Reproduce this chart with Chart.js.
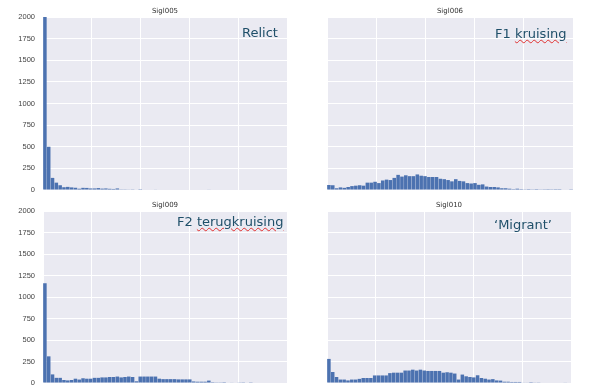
<!DOCTYPE html>
<html>
<head>
<meta charset="utf-8">
<script src="https://cdn.jsdelivr.net/npm/chart.js@4.4.1/dist/chart.umd.min.js"></script>
<style>
    body { margin: 0; background: #fff; width: 602px; height: 388px; position: relative; overflow: hidden; font-family: "DejaVu Sans", sans-serif; }
    canvas { position: absolute; z-index: 1; }
    .title { position: absolute; z-index: 2; font-size: 7px; line-height: 7px; color: #333; transform: translateX(-50%); white-space: nowrap; }
    .note { position: absolute; z-index: 2; font-size: 13px; line-height: 13px; color: #1f4f69; white-space: nowrap; }
    .spell { text-decoration: underline wavy #e03030; text-decoration-thickness: 0.7px; text-underline-offset: 1px; }
</style>
</head>
<body>
<div class="title" style="left:165px; top:8px;">Sigl005</div>
<div class="title" style="left:450px; top:8px;">Sigl006</div>
<div class="title" style="left:165px; top:202px;">Sigl009</div>
<div class="title" style="left:449px; top:202px;">Sigl010</div>

<div class="note" style="left:242px; top:26px;">Relict</div>
<div class="note" style="left:495px; top:27px;">F1 <span class="spell">kruising</span></div>
<div class="note" style="left:177px; top:215px;">F2 <span class="spell">terugkruising</span></div>
<div class="note" style="left:494px; top:218px;">‘Migrant’</div>

<script>
// 64 bins over 0..1
const binLabels = Array.from({ length: 64 }, (_, i) => String(i));

const sigl005 = [2600, 500, 140, 85, 55, 32, 36, 30, 26, 15, 25, 24, 18, 18, 22, 16, 18, 14, 12, 18,
    8, 8, 7, 8, 6, 2, 0, 6, 6, 5, 0, 0, 0, 0, 0, 0, 0, 0, 0, 0, 0, 0, 0, 5,
    0, 0, 0, 0, 0, 0, 0, 0, 0, 0, 0, 0, 0, 0, 0, 0, 0, 0, 0, 0];

const sigl006 = [58, 55, 20, 30, 25, 35, 45, 50, 55, 50, 85, 85, 95, 80, 110, 120, 115, 140, 175, 155,
    170, 160, 160, 180, 165, 160, 150, 150, 150, 130, 125, 115, 100, 125, 105, 100, 80, 75, 80, 60,
    65, 40, 35, 35, 30, 20, 20, 15, 10, 15, 10, 8, 10, 8, 10, 4, 3, 2, 3, 2, 2, 0, 0, 3];

const sigl009 = [1160, 310, 100, 60, 60, 35, 30, 35, 50, 40, 55, 50, 50, 60, 60, 65, 65, 70, 70, 75,
    65, 70, 75, 70, 20, 75, 75, 75, 75, 75, 50, 45, 45, 45, 45, 42, 42, 42, 42, 18,
    15, 15, 15, 28, 10, 8, 8, 10, 6, 5, 0, 4, 3, 0, 3, 0, 0, 0, 0, 0, 0, 0, 0, 0];

const sigl010 = [280, 128, 70, 40, 40, 30, 40, 40, 48, 58, 58, 58, 88, 88, 88, 88, 115, 120, 120, 120,
    145, 145, 155, 145, 155, 145, 140, 140, 140, 140, 120, 125, 120, 110, 40, 98, 78, 70, 65, 90,
    58, 50, 40, 45, 30, 28, 15, 15, 12, 12, 12, 5, 5, 10, 7, 4, 0, 0, 0, 0, 0, 0, 5, 0];

const yMax = 2000;
const yStep = 250;

// grey plot background (seaborn darkgrid look)
const plotBg = {
    id: "plotBg",
    beforeDraw(chart) {
        const { ctx, chartArea: a } = chart;
        ctx.save();
        ctx.fillStyle = "#eaeaf2";
        ctx.fillRect(a.left, a.top, a.right - a.left, a.bottom - a.top);
        ctx.restore();
    }
};

const panels = [
    { values: sigl005, x: 0, y: 0, w: 300, h: 195, left: 43, right: 287, top: 17, bottom: 190, yLabels: true },
    { values: sigl006, x: 300, y: 0, w: 302, h: 195, left: 27, right: 273, top: 17, bottom: 190, yLabels: false },
    { values: sigl009, x: 0, y: 195, w: 300, h: 193, left: 43, right: 287, top: 16, bottom: 188, yLabels: true },
    { values: sigl010, x: 300, y: 195, w: 302, h: 193, left: 27, right: 271, top: 16, bottom: 188, yLabels: false }
];

panels.forEach(p => {
    const canvas = document.createElement("canvas");
    canvas.width = p.w;
    canvas.height = p.h;
    canvas.style.left = p.x + "px";
    canvas.style.top = p.y + "px";
    document.body.appendChild(canvas);

    new Chart(canvas.getContext("2d"), {
        type: "bar",
        data: {
            labels: binLabels,
            datasets: [{
                data: p.values,
                backgroundColor: "#4c72b0",
                barPercentage: 0.92,
                categoryPercentage: 1
            }]
        },
        options: {
            responsive: false,
            animation: false,
            layout: { padding: { left: 0, top: p.top, right: p.w - p.right, bottom: p.h - p.bottom } },
            plugins: {
                legend: { display: false },
                tooltip: { enabled: false },
                title: { display: false }
            },
            scales: {
                x: {
                    type: "category",
                    offset: true,
                    grid: { display: false },
                    border: { display: false },
                    ticks: { display: false },
                    afterFit: s => { s.height = 0; }
                },
                xGrid: {
                    type: "linear",
                    position: "bottom",
                    min: 0,
                    max: 1,
                    offset: false,
                    ticks: { display: false, stepSize: 0.2 },
                    grid: { color: "#ffffff", lineWidth: 1, drawTicks: false, offset: false },
                    border: { display: false },
                    afterFit: s => { s.height = 0; }
                },
                y: {
                    min: 0,
                    max: yMax,
                    ticks: {
                        stepSize: yStep,
                        display: p.yLabels,
                        color: "#444444",
                        font: { family: "Liberation Sans", size: 7.5 },
                        padding: 8,
                        callback: v => String(v)
                    },
                    grid: { color: "#ffffff", lineWidth: 1, drawTicks: false },
                    border: { display: false },
                    afterFit: s => { s.width = p.left; s.paddingTop = 0; s.paddingBottom = 0; }
                }
            }
        },
        plugins: [plotBg]
    });
});
</script>
</body>
</html>
